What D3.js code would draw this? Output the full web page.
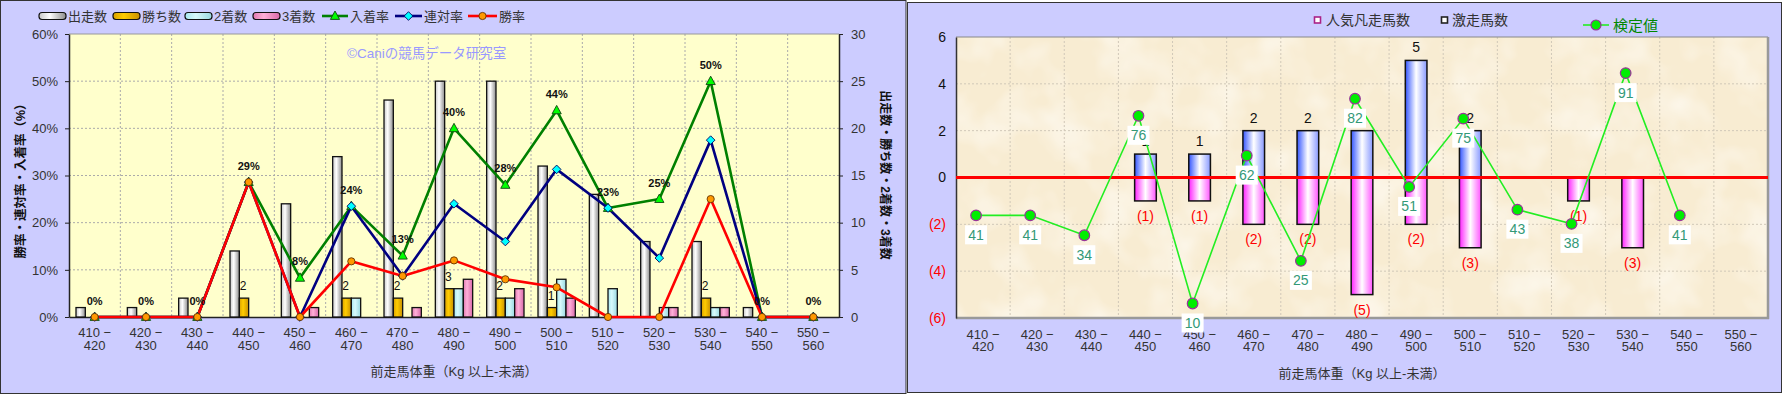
<!DOCTYPE html>
<html>
<head>
<meta charset="utf-8">
<script src="https://cdn.jsdelivr.net/npm/d3@7"></script>
<style>
  body { margin: 0; background: #fff; }
  svg { display: block; }
  text { font-family: "Liberation Sans", "Noto Sans CJK JP", sans-serif; }
</style>
</head>
<body>
<svg id="chart"></svg>
<script>
// 前走馬体重の区分
const binLabels = ["410-420", "420-430", "430-440", "440-450", "450-460", "460-470", "470-480",
  "480-490", "490-500", "500-510", "510-520", "520-530", "530-540", "540-550", "550-560"];

// 左のグラフ: 頭数
const runs    = [1, 1, 2, 7, 12, 17, 23, 25, 25, 16, 13, 8, 8, 1, 0];
const wins    = [0, 0, 0, 2, 0, 2, 2, 3, 2, 1, 0, 0, 2, 0, 0];
const seconds = [0, 0, 0, 0, 0, 2, 0, 3, 2, 4, 3, 1, 1, 0, 0];
const thirds  = [0, 0, 0, 0, 1, 0, 1, 4, 3, 2, 0, 1, 1, 0, 0];
// 左のグラフ: 率 (%)
const winRate      = [0, 0, 0, 28.6, 0, 11.8, 8.7, 12, 8, 6.3, 0, 0, 25, 0, 0];
const quinellaRate = [0, 0, 0, 28.6, 0, 23.5, 8.7, 24, 16, 31.3, 23.1, 12.5, 37.5, 0, 0];
const placeRate    = [0, 0, 0, 28.6, 8.3, 23.5, 13, 40, 28, 43.8, 23.1, 25, 50, 0, 0];
const placeLabels  = ["0%", "0%", "0%", "29%", "8%", "24%", "13%", "40%", "28%", "44%", "23%", "25%", "50%", "0%", "0%"];

// 右のグラフ
const popularLoss = [0, 0, 0, 1, 1, 2, 2, 2, 5, 2, 0, 0, 0, 0, 0];   // 人気凡走馬数
const upsetRuns   = [0, 0, 0, 1, 1, 2, 2, 5, 2, 3, 0, 1, 3, 0, 0];   // 激走馬数
const testValue   = [41, 41, 34, 76, 10, 62, 25, 82, 51, 75, 43, 38, 91, 41, null]; // 検定値

const svg = d3.select('#chart').attr('width', 1790).attr('height', 395);
const defs = svg.append('defs');

function hGrad(id, stops) {
  const g = defs.append('linearGradient').attr('id', id)
    .attr('x1', 0).attr('x2', 1).attr('y1', 0).attr('y2', 0);
  stops.forEach(([o, c]) => g.append('stop').attr('offset', o).attr('stop-color', c));
}
hGrad('gGray', [[0, '#c8c8c8'], [0.4, '#ffffff'], [1, '#8c8c8c']]);
hGrad('gGold', [[0, '#d9a000'], [0.4, '#ffcc00'], [1, '#c89000']]);
hGrad('gCyan', [[0, '#a8e8f0'], [0.4, '#d8fafc'], [1, '#98d8e0']]);
hGrad('gPink', [[0, '#e078b0'], [0.4, '#ffb0d8'], [1, '#d868a8']]);
hGrad('gBlue', [[0, '#3355ff'], [0.5, '#ffffff'], [1, '#8899ff']]);
hGrad('gMag',  [[0, '#ff22ff'], [0.5, '#ffffff'], [1, '#ff55ff']]);

const parch = defs.append('filter').attr('id', 'parch')
  .attr('x', 0).attr('y', 0).attr('width', 1).attr('height', 1);
parch.append('feTurbulence').attr('type', 'fractalNoise')
  .attr('baseFrequency', 0.02).attr('numOctaves', 3).attr('seed', 7);
parch.append('feColorMatrix').attr('type', 'matrix')
  .attr('values', '0 0 0 0 1  0 0 0 0 0.99  0 0 0 0 0.96  1.4 0 0 0 -0.6');

// ================= 左のグラフ =================
const L = { x0: 69, x1: 839, y0: 34, y1: 317 };
svg.append('rect').attr('x', 0.5).attr('y', 0.5).attr('width', 905.5).attr('height', 393)
  .attr('fill', '#ccccff').attr('stroke', '#333');

const gL = svg.append('g');
gL.append('rect').attr('x', L.x0).attr('y', L.y0).attr('width', L.x1 - L.x0).attr('height', L.y1 - L.y0)
  .attr('fill', '#ffffcc');

const xL = d3.scaleBand().domain(binLabels).range([L.x0, L.x1]);
const xSer = d3.scaleBand().domain(['runs', 'wins', 'seconds', 'thirds'])
  .range([0, xL.bandwidth()]).paddingInner(0).paddingOuter(0.75);
const yRate = d3.scaleLinear().domain([0, 60]).range([L.y1, L.y0]);
const yCount = d3.scaleLinear().domain([0, 30]).range([L.y1, L.y0]);

// グリッド
gL.append('g').selectAll('line').data(yRate.ticks(6).filter(d => d > 0 && d < 60)).join('line')
  .attr('x1', L.x0).attr('x2', L.x1).attr('y1', d => yRate(d)).attr('y2', d => yRate(d))
  .attr('stroke', '#aaa').attr('stroke-dasharray', '2,2');
gL.append('g').selectAll('line').data(binLabels.slice(1)).join('line')
  .attr('x1', d => xL(d)).attr('x2', d => xL(d)).attr('y1', L.y0).attr('y2', L.y1)
  .attr('stroke', '#aaa').attr('stroke-dasharray', '2,2');
gL.append('line').attr('x1', L.x0).attr('x2', L.x1).attr('y1', L.y0).attr('y2', L.y0).attr('stroke', '#999');

// 軸
const axLeft = gL.append('g').attr('transform', `translate(${L.x0},0)`)
  .call(d3.axisLeft(yRate).ticks(6).tickFormat(d => d + '%').tickSize(4).tickSizeOuter(0).tickPadding(7));
const axRight = gL.append('g').attr('transform', `translate(${L.x1},0)`)
  .call(d3.axisRight(yCount).ticks(6).tickSize(4).tickSizeOuter(0).tickPadding(8));
const axBottom = gL.append('g').attr('transform', `translate(0,${L.y1})`)
  .call(d3.axisBottom(xL).tickSize(0).tickSizeOuter(0));

function styleAxis(ax) {
  ax.select('.domain').attr('stroke', '#222').attr('stroke-width', 1.5);
  ax.selectAll('.tick line').attr('stroke', '#222');
  ax.selectAll('.tick text').attr('fill', '#333').attr('font-size', 13)
    .attr('font-family', '"Liberation Sans", "Noto Sans CJK JP", sans-serif');
}
[axLeft, axRight, axBottom].forEach(styleAxis);

function twoLineTicks(ax, y1, y2) {
  ax.selectAll('.tick text').each(function (d) {
    const [a, b] = d.split('-');
    const t = d3.select(this).text(null).attr('y', 0).attr('dy', null);
    t.append('tspan').attr('x', 0).attr('y', y1).text(a + ' \u2212');
    t.append('tspan').attr('x', 0).attr('y', y2).text(b);
  });
}
twoLineTicks(axBottom, 20, 32.5);

// 棒
const barSeries = [
  { key: 'runs', values: runs, fill: 'url(#gGray)' },
  { key: 'wins', values: wins, fill: 'url(#gGold)' },
  { key: 'seconds', values: seconds, fill: 'url(#gCyan)' },
  { key: 'thirds', values: thirds, fill: 'url(#gPink)' }
];
barSeries.forEach(s => {
  gL.append('g').selectAll('rect').data(s.values.map((v, i) => ({ v, c: binLabels[i] })).filter(d => d.v > 0))
    .join('rect')
    .attr('x', d => xL(d.c) + xSer(s.key))
    .attr('y', d => yCount(d.v))
    .attr('width', xSer.bandwidth())
    .attr('height', d => yCount(0) - yCount(d.v))
    .attr('fill', s.fill).attr('stroke', '#111').attr('stroke-width', 1.3);
});
// 勝ち数ラベル
gL.append('g').selectAll('text').data(wins.map((v, i) => ({ v, c: binLabels[i] })).filter(d => d.v > 0))
  .join('text')
  .attr('x', d => xL(d.c) + xSer('wins') + xSer.bandwidth() / 2 - 1)
  .attr('y', d => yCount(d.v) - 8)
  .attr('text-anchor', 'middle').attr('font-size', 12).attr('fill', '#111')
  .text(d => d.v);

// 折れ線
const cx = i => xL(binLabels[i]) + xL.bandwidth() / 2;
const rateLine = d3.line().x((d, i) => cx(i)).y(d => yRate(d));
const lineSeries = [
  { values: placeRate, color: '#008000', marker: 'tri', fill: '#00ff00' },
  { values: quinellaRate, color: '#000080', marker: 'dia', fill: '#00ffff' },
  { values: winRate, color: '#ff0000', marker: 'circ', fill: '#ff9900' }
];
function drawMarker(g, type, x, y, fill) {
  if (type === 'tri') {
    g.append('path').attr('d', `M${x},${y - 5}L${x + 4.6},${y + 3.4}L${x - 4.6},${y + 3.4}Z`)
      .attr('fill', fill).attr('stroke', '#114411').attr('stroke-width', 0.9);
  } else if (type === 'dia') {
    g.append('path').attr('d', `M${x},${y - 4.3}L${x + 4.3},${y}L${x},${y + 4.3}L${x - 4.3},${y}Z`)
      .attr('fill', fill).attr('stroke', '#000060').attr('stroke-width', 0.9);
  } else {
    g.append('circle').attr('cx', x).attr('cy', y).attr('r', 3.6)
      .attr('fill', fill).attr('stroke', '#663300').attr('stroke-width', 0.9);
  }
}
lineSeries.forEach(s => {
  gL.append('path').attr('d', rateLine(s.values)).attr('fill', 'none')
    .attr('stroke', s.color).attr('stroke-width', 2.6).attr('stroke-linejoin', 'round');
});
lineSeries.forEach(s => {
  const g = gL.append('g');
  s.values.forEach((v, i) => drawMarker(g, s.marker, cx(i), yRate(v), s.fill));
});
// 入着率ラベル
gL.append('g').selectAll('text').data(placeLabels).join('text')
  .attr('x', (d, i) => cx(i)).attr('y', (d, i) => yRate(placeRate[i]) - 12.5)
  .attr('text-anchor', 'middle').attr('font-size', 11).attr('font-weight', 'bold').attr('fill', '#111')
  .text(d => d);

// 透かし
gL.append('text').attr('x', 347).attr('y', 58).attr('font-size', 13.5).attr('fill', '#9999ff')
  .text('©Caniの競馬データ研究室');

// 軸タイトル
gL.append('text').attr('transform', 'translate(25,178) rotate(-90)')
  .attr('text-anchor', 'middle').attr('font-size', 12.5).attr('font-weight', 'bold').attr('fill', '#111')
  .text('勝率・連対率・入着率（%）');
gL.append('text').attr('transform', 'translate(881,175) rotate(90)')
  .attr('text-anchor', 'middle').attr('font-size', 12).attr('font-weight', 'bold').attr('fill', '#111')
  .text('出走数・勝ち数・2着数・3着数');
gL.append('text').attr('x', (L.x0 + L.x1) / 2).attr('y', 376).attr('text-anchor', 'middle')
  .attr('font-size', 13).attr('fill', '#333').text('前走馬体重（Kg  以上-未満）');

// 凡例
const legL = gL.append('g');
[['出走数', 'url(#gGray)', 39], ['勝ち数', 'url(#gGold)', 113], ['2着数', 'url(#gCyan)', 185], ['3着数', 'url(#gPink)', 253]]
  .forEach(([t, f, x]) => {
    legL.append('rect').attr('x', x).attr('y', 12.5).attr('width', 27).attr('height', 7).attr('rx', 3)
      .attr('fill', f).attr('stroke', '#111').attr('stroke-width', 1.2);
    legL.append('text').attr('x', x + 29).attr('y', 21).attr('font-size', 13).attr('fill', '#333').text(t);
  });
[['入着率', lineSeries[0], 322, 26], ['連対率', lineSeries[1], 395, 27], ['勝率', lineSeries[2], 468, 29]]
  .forEach(([t, s, x, w]) => {
    legL.append('line').attr('x1', x).attr('x2', x + w).attr('y1', 16).attr('y2', 16)
      .attr('stroke', s.color).attr('stroke-width', 2.6);
    drawMarker(legL, s.marker, x + w / 2, 16, s.fill);
    legL.append('text').attr('x', x + w + 2).attr('y', 21).attr('font-size', 13).attr('fill', '#333').text(t);
  });

// ================= 右のグラフ =================
const R = { x0: 956, x1: 1768, y0: 37, y1: 318 };
svg.append('rect').attr('x', 907.5).attr('y', 2.5).attr('width', 874).attr('height', 390)
  .attr('fill', '#ccccff').attr('stroke', '#333');
const gR = svg.append('g');
gR.append('rect').attr('x', R.x0).attr('y', R.y0).attr('width', R.x1 - R.x0).attr('height', R.y1 - R.y0)
  .attr('fill', '#f8ecd2');
gR.append('rect').attr('x', R.x0).attr('y', R.y0).attr('width', R.x1 - R.x0).attr('height', R.y1 - R.y0)
  .attr('filter', 'url(#parch)');

const xR = d3.scaleBand().domain(binLabels).range([R.x0, R.x1]);
const yR = d3.scaleLinear().domain([-6, 6]).range([R.y1, R.y0]);
const yT = d3.scaleLinear().domain([4.9, 103.7]).range([R.y1, R.y0]);

gR.append('g').selectAll('line').data([-4, -2, 2, 4]).join('line')
  .attr('x1', R.x0).attr('x2', R.x1).attr('y1', d => yR(d)).attr('y2', d => yR(d))
  .attr('stroke', '#d0c8b8').attr('stroke-dasharray', '2,2');
gR.append('g').selectAll('line').data(binLabels.slice(1)).join('line')
  .attr('x1', d => xR(d)).attr('x2', d => xR(d)).attr('y1', R.y0).attr('y2', R.y1)
  .attr('stroke', '#d0c8b8').attr('stroke-dasharray', '2,2');
// 枠
gR.append('line').attr('x1', R.x0).attr('x2', R.x1).attr('y1', R.y0).attr('y2', R.y0).attr('stroke', '#888');
gR.append('line').attr('x1', R.x1).attr('x2', R.x1).attr('y1', R.y0).attr('y2', R.y1 + 1)
  .attr('stroke', '#999').attr('stroke-width', 2.5);
gR.append('line').attr('x1', R.x0).attr('x2', R.x1 + 1).attr('y1', R.y1).attr('y2', R.y1)
  .attr('stroke', '#999').attr('stroke-width', 2.5);

const axRL = gR.append('g').attr('transform', `translate(${R.x0},0)`)
  .call(d3.axisLeft(yR).tickValues([-6, -4, -2, 0, 2, 4, 6])
    .tickFormat(d => d < 0 ? `(${-d})` : d).tickSize(0).tickPadding(10));
axRL.select('.domain').attr('stroke', '#333').attr('stroke-width', 1.5);
axRL.selectAll('.tick text').attr('font-size', 14)
  .attr('font-family', '"Liberation Sans", "Noto Sans CJK JP", sans-serif')
  .attr('fill', d => d < 0 ? '#ff0000' : '#111');

const axRB = gR.append('g').attr('transform', `translate(0,${R.y1})`)
  .call(d3.axisBottom(xR).tickSize(0).tickSizeOuter(0));
axRB.select('.domain').remove();
axRB.selectAll('.tick text').attr('fill', '#333').attr('font-size', 13)
  .attr('font-family', '"Liberation Sans", "Noto Sans CJK JP", sans-serif');
twoLineTicks(axRB, 21, 33);

// 棒
const bw = xR.bandwidth() * 0.4;
const bx = c => xR(c) + (xR.bandwidth() - bw) / 2;
gR.append('g').selectAll('rect').data(popularLoss.map((v, i) => ({ v, c: binLabels[i] })).filter(d => d.v > 0))
  .join('rect')
  .attr('x', d => bx(d.c)).attr('y', d => yR(d.v)).attr('width', bw).attr('height', d => yR(0) - yR(d.v))
  .attr('fill', 'url(#gBlue)').attr('stroke', '#111').attr('stroke-width', 1.5);
gR.append('g').selectAll('rect').data(upsetRuns.map((v, i) => ({ v, c: binLabels[i] })).filter(d => d.v > 0))
  .join('rect')
  .attr('x', d => bx(d.c)).attr('y', yR(0)).attr('width', bw).attr('height', d => yR(-d.v) - yR(0))
  .attr('fill', 'url(#gMag)').attr('stroke', '#111').attr('stroke-width', 1.5);

gR.append('line').attr('x1', R.x0).attr('x2', R.x1).attr('y1', yR(0)).attr('y2', yR(0))
  .attr('stroke', '#ff0000').attr('stroke-width', 3);

gR.append('g').selectAll('text').data(popularLoss.map((v, i) => ({ v, c: binLabels[i] })).filter(d => d.v > 0))
  .join('text')
  .attr('x', d => xR(d.c) + xR.bandwidth() / 2).attr('y', d => yR(d.v) - 8)
  .attr('text-anchor', 'middle').attr('font-size', 14).attr('fill', '#111').text(d => d.v);
gR.append('g').selectAll('text').data(upsetRuns.map((v, i) => ({ v, c: binLabels[i] })).filter(d => d.v > 0))
  .join('text')
  .attr('x', d => xR(d.c) + xR.bandwidth() / 2).attr('y', d => yR(-d.v) + 20)
  .attr('text-anchor', 'middle').attr('font-size', 14).attr('fill', '#ff0000').text(d => `(${d.v})`);

// 検定値
const tx = i => xR(binLabels[i]) + xR.bandwidth() / 2 - 7;
const testPts = testValue.map((v, i) => ({ v, i })).filter(d => d.v !== null);
gR.append('path').attr('d', d3.line().x(d => tx(d.i)).y(d => yT(d.v))(testPts))
  .attr('fill', 'none').attr('stroke', '#22ee22').attr('stroke-width', 1.6);
gR.append('g').selectAll('circle').data(testPts).join('circle')
  .attr('cx', d => tx(d.i)).attr('cy', d => yT(d.v)).attr('r', 5.3)
  .attr('fill', '#00ee00').attr('stroke', '#993399').attr('stroke-width', 1.2);
const tl = gR.append('g').selectAll('g').data(testPts).join('g')
  .attr('transform', d => `translate(${tx(d.i)},${yT(d.v) + 19.5})`);
tl.append('rect').attr('x', -11).attr('y', -9.5).attr('width', 22).attr('height', 19).attr('fill', '#fff');
tl.append('text').attr('y', 5).attr('text-anchor', 'middle').attr('font-size', 14).attr('fill', '#339977')
  .text(d => d.v);

gR.append('text').attr('x', (R.x0 + R.x1) / 2).attr('y', 378).attr('text-anchor', 'middle')
  .attr('font-size', 13).attr('fill', '#333').text('前走馬体重（Kg  以上-未満）');

// 凡例
const legR = gR.append('g');
legR.append('rect').attr('x', 1314.5).attr('y', 17).attr('width', 6).attr('height', 6)
  .attr('fill', '#fff').attr('stroke', '#aa2288').attr('stroke-width', 1.6);
legR.append('text').attr('x', 1326).attr('y', 25).attr('font-size', 14).attr('fill', '#333').text('人気凡走馬数');
legR.append('rect').attr('x', 1441.5).attr('y', 17).attr('width', 6).attr('height', 6)
  .attr('fill', '#fff').attr('stroke', '#222').attr('stroke-width', 1.6);
legR.append('text').attr('x', 1452).attr('y', 25).attr('font-size', 14).attr('fill', '#333').text('激走馬数');
legR.append('line').attr('x1', 1583).attr('x2', 1609).attr('y1', 25).attr('y2', 25)
  .attr('stroke', '#22ee22').attr('stroke-width', 1.6);
legR.append('circle').attr('cx', 1596).attr('cy', 25).attr('r', 5)
  .attr('fill', '#00ee00').attr('stroke', '#993399').attr('stroke-width', 1.2);
legR.append('text').attr('x', 1613).attr('y', 31).attr('font-size', 15).attr('fill', '#008800').text('検定値');
</script>
</body>
</html>
